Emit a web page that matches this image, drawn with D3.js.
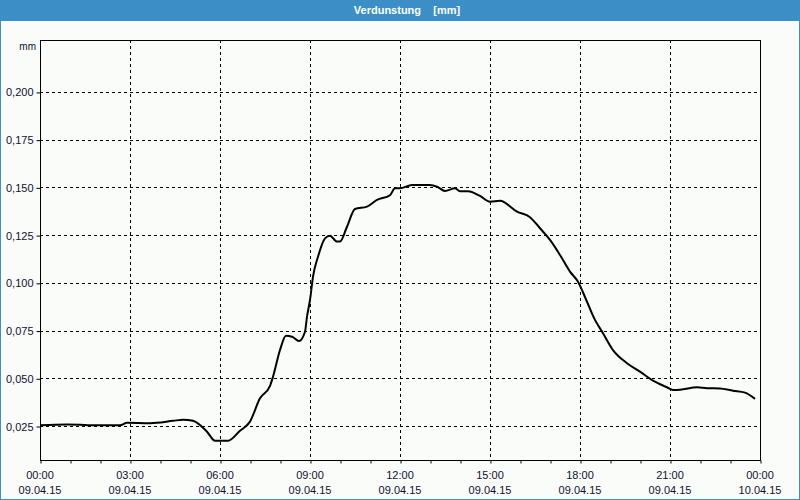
<!DOCTYPE html>
<html>
<head>
<meta charset="utf-8">
<script src="https://cdn.jsdelivr.net/npm/d3@7"></script>
<style>
  html, body { margin: 0; padding: 0; background: #fafcfa; }
  svg { display: block; }
</style>
</head>
<body>
<script>
// ---- data ----
const chartTitle = "Verdunstung    [mm]";
const unitLabel = "mm";
const times = ["00:00","00:54","01:20","01:40","02:40","02:54","03:40","04:26","04:46","05:06",
  "05:34","05:50","06:16","06:40","07:00","07:20","07:40","07:46","08:00","08:12",
  "08:24","08:38","08:50","08:54","09:00","09:06","09:16","09:30","09:40","09:54",
  "10:00","10:14","10:30","10:54","11:14","11:40","11:50","12:00","12:24","13:00",
  "13:14","13:30","13:50","14:00","14:16","14:40","15:00","15:20","15:54","16:20",
  "16:40","17:00","17:20","17:40","17:56","18:14","18:30","18:46","19:06","19:34",
  "20:00","20:26","20:54","21:06","21:20","21:54","22:14","22:40","23:06","23:30","23:50"];
const values = [0.0254,0.0258,0.0257,0.0254,0.0254,0.0267,0.0265,0.0277,0.0283,0.0278,
  0.0220,0.0173,0.0173,0.0225,0.0273,0.0395,0.0460,0.0508,0.0648,0.0723,
  0.0718,0.0695,0.0744,0.0823,0.0910,0.1032,0.1137,0.1233,0.1247,0.1216,
  0.1216,0.1294,0.1387,0.1399,0.1434,0.1459,0.1495,0.1495,0.1513,0.1513,
  0.1504,0.1481,0.1495,0.1480,0.1480,0.1455,0.1425,0.1430,0.1373,0.1344,
  0.1286,0.1225,0.1146,0.1059,0.1006,0.0901,0.0806,0.0736,0.0648,0.0579,
  0.0535,0.0488,0.0453,0.0439,0.0440,0.0453,0.0448,0.0447,0.0435,0.0425,0.0392];
const yTicks = [0.025,0.05,0.075,0.1,0.125,0.15,0.175,0.2];
const xTickTimes = ["2015-04-09 00:00","2015-04-09 03:00","2015-04-09 06:00","2015-04-09 09:00",
  "2015-04-09 12:00","2015-04-09 15:00","2015-04-09 18:00","2015-04-09 21:00","2015-04-10 00:00"];
const baseDate = "2015-04-09";

// ---- layout ----
const W = 800, H = 500;
const plot = {left: 40, top: 40, right: 760, bottom: 460};

const parse = d3.timeParse("%Y-%m-%d %H:%M");
const data = times.map((t, i) => ({t: parse(baseDate + " " + t), v: values[i]}));
const xTicks = xTickTimes.map(parse);

const x = d3.scaleTime()
  .domain([xTicks[0], xTicks[xTicks.length - 1]])
  .range([plot.left, plot.right]);
const y = d3.scaleLinear()
  .domain([0.0072, 0.2272])
  .range([plot.bottom, plot.top]);

const svg = d3.select("body").append("svg")
  .attr("width", W).attr("height", H);

// background
svg.append("rect").attr("x", 0).attr("y", 0).attr("width", W).attr("height", H).attr("fill", "#fafcfa");

// title bar
svg.append("rect").attr("x", 0).attr("y", 0).attr("width", W).attr("height", 20).attr("fill", "#3b8fc6");
svg.append("text").attr("x", 407).attr("y", 14)
  .attr("text-anchor", "middle")
  .attr("font-family", "'Liberation Sans', Arial, sans-serif")
  .attr("font-size", 11).attr("font-weight", "bold")
  .attr("fill", "#ffffff").attr("xml:space", "preserve")
  .style("white-space", "pre")
  .text(chartTitle);

// window border
svg.append("rect").attr("x", 0.5).attr("y", 20.5).attr("width", W - 1).attr("height", H - 21)
  .attr("fill", "none").attr("stroke", "#3b8fc6").attr("stroke-width", 1);

const fontFam = "'Liberation Sans', Arial, sans-serif";
const textCol = "#101030";

// horizontal grid
svg.append("g").selectAll("line").data(yTicks).join("line")
  .attr("x1", plot.left).attr("x2", plot.right)
  .attr("y1", d => Math.round(y(d)) + 0.5).attr("y2", d => Math.round(y(d)) + 0.5)
  .attr("stroke", "#000").attr("stroke-width", 1).attr("stroke-dasharray", "3,3");

// vertical grid
svg.append("g").selectAll("line").data(xTicks.slice(1, -1)).join("line")
  .attr("x1", d => Math.round(x(d)) + 0.5).attr("x2", d => Math.round(x(d)) + 0.5)
  .attr("y1", plot.top).attr("y2", plot.bottom)
  .attr("stroke", "#000").attr("stroke-width", 1).attr("stroke-dasharray", "3,3");

// y axis
const yAxis = d3.axisLeft(y).tickValues(yTicks).tickSize(4).tickPadding(3)
  .tickFormat(d => d3.format(".3f")(d).replace(".", ","));
const yg = svg.append("g").attr("transform", `translate(${plot.left + 0.5},0.5)`).call(yAxis);
yg.select(".domain").remove();
yg.selectAll("text").attr("font-family", fontFam).attr("font-size", 11).attr("fill", textCol);

// x axis (hourly minor ticks)
const hourTicks = d3.timeHour.range(xTicks[0], d3.timeHour.offset(xTicks[xTicks.length - 1], 1));
const xAxis = d3.axisBottom(x).tickValues(hourTicks).tickSize(3).tickFormat("");
const xg = svg.append("g").attr("transform", `translate(0.5,${plot.bottom + 0.5})`).call(xAxis);
xg.select(".domain").remove();

// x labels
const fmtTime = d3.timeFormat("%H:%M"), fmtDate = d3.timeFormat("%d.%m.%y");
const xl = svg.append("g").selectAll("g").data(xTicks).join("g")
  .attr("transform", d => `translate(${x(d)},0)`);
xl.append("text").attr("y", 479).attr("text-anchor", "middle")
  .attr("font-family", fontFam).attr("font-size", 11).attr("fill", textCol)
  .text(d => fmtTime(d));
xl.append("text").attr("y", 494).attr("text-anchor", "middle")
  .attr("font-family", fontFam).attr("font-size", 11).attr("fill", textCol)
  .text(d => fmtDate(d));

// unit label
svg.append("text").attr("x", 36).attr("y", 50).attr("text-anchor", "end")
  .attr("font-family", fontFam).attr("font-size", 10).attr("fill", textCol)
  .text(unitLabel);

// plot frame
svg.append("rect").attr("x", plot.left + 0.5).attr("y", plot.top + 0.5)
  .attr("width", plot.right - plot.left).attr("height", plot.bottom - plot.top)
  .attr("fill", "none").attr("stroke", "#000").attr("stroke-width", 1);

// line
const line = d3.line().x(d => x(d.t)).y(d => y(d.v)).curve(d3.curveMonotoneX);
svg.append("path").datum(data).attr("d", line)
  .attr("fill", "none").attr("stroke", "#000").attr("stroke-width", 2)
  .attr("stroke-linejoin", "round");
</script>
</body>
</html>
